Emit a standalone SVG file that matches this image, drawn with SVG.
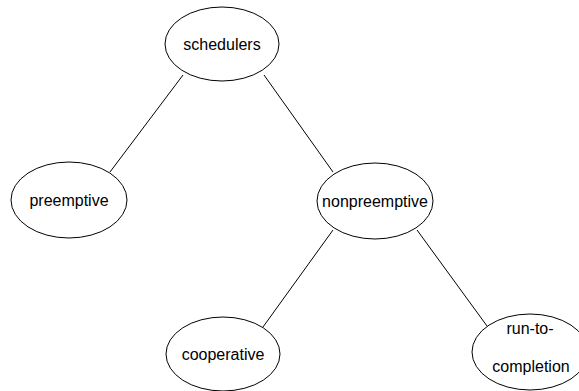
<svg xmlns="http://www.w3.org/2000/svg" width="579" height="391" viewBox="0 0 579 391">
<style>
.n{fill:#fff;stroke:#000;stroke-width:1}
.t{font-family:"Liberation Sans",Arial,sans-serif;font-size:16px;fill:#000;text-anchor:middle}
.e{stroke:#000;stroke-width:1;fill:none}
</style>
<rect width="579" height="391" fill="#fff"/>
<g id="edges">
<line class="e" x1="183" y1="75" x2="110" y2="172"/>
<line class="e" x1="264" y1="75" x2="333" y2="172"/>
<line class="e" x1="333" y1="230" x2="263" y2="327"/>
<line class="e" x1="417" y1="230" x2="487" y2="326"/>
</g>
<g id="schedulers"><ellipse class="n" cx="222" cy="44" rx="57" ry="37"/><text class="t" x="222" y="50">schedulers</text></g>
<g id="preemptive"><ellipse class="n" cx="69" cy="200" rx="58" ry="38"/><text class="t" x="69" y="206">preemptive</text></g>
<g id="nonpreemptive"><ellipse class="n" cx="375" cy="201" rx="58" ry="38"/><text class="t" x="375" y="207">nonpreemptive</text></g>
<g id="cooperative"><ellipse class="n" cx="223" cy="354" rx="57" ry="37"/><text class="t" x="223" y="360">cooperative</text></g>
<g id="run-to-completion"><ellipse class="n" cx="530" cy="352" rx="58" ry="38"/><text class="t" x="530" y="334">run-to-</text><text class="t" x="531" y="372">completion</text></g>
</svg>
